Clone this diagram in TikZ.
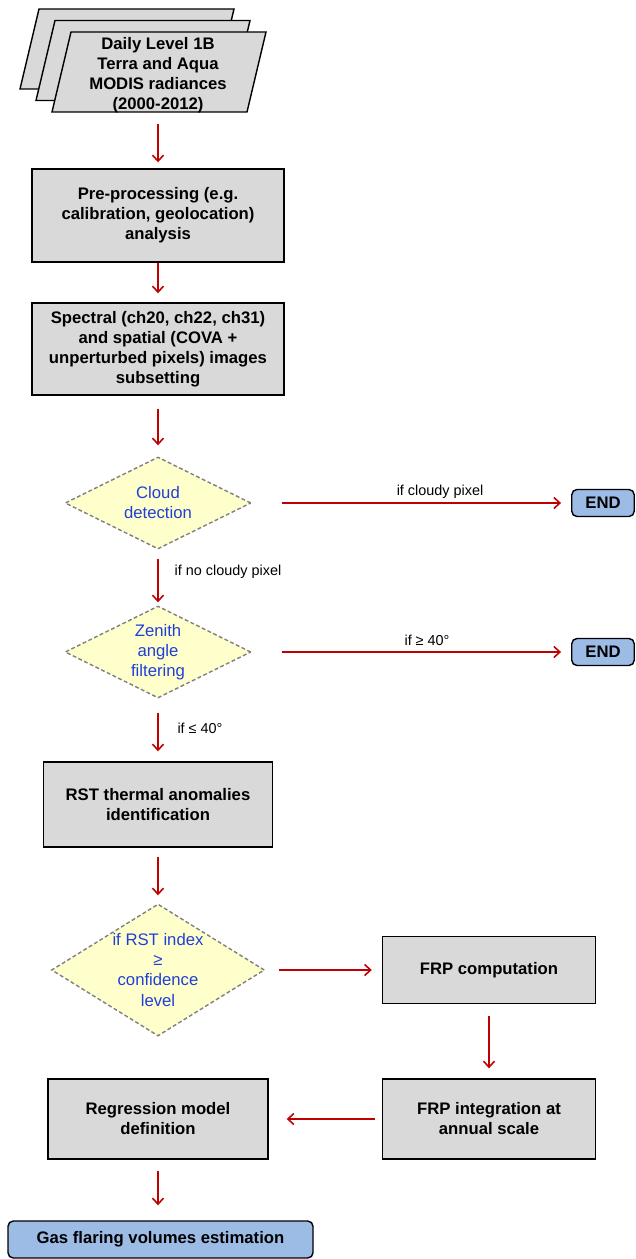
\documentclass[tikz,border=0pt]{standalone}
\usepackage{fontspec}
\setmainfont{Liberation Sans}
\usepackage{tikz}
\usetikzlibrary{arrows.meta, shapes.geometric, positioning}

\definecolor{grisCaja}{HTML}{D9D9D9}
\definecolor{amarilloDec}{HTML}{FFFFCC}
\definecolor{azulFin}{HTML}{9CBBE5}
\definecolor{azulTexto}{HTML}{1F3FD7}
\definecolor{rojoFlecha}{HTML}{C00000}

\begin{document}
\begin{tikzpicture}[
		font=\fontsize{9.5}{11.4}\selectfont,
		proc/.style={
			rectangle,
			draw,
			thick,
			fill=grisCaja,
			minimum width=50.4mm,
			minimum height=18.6mm,
			inner sep=1pt,
			align=center,
			font=\fontsize{9.5}{11.4}\selectfont\bfseries
		},
		dec/.style={
			diamond,
			draw=gray,
			line width=0.8pt,
			dash pattern=on 2.2pt off 1.4pt,
			fill=amarilloDec,
			aspect=2,
			inner sep=0pt,
			minimum width=37.2mm,
			minimum height=18.4mm,
			align=center,
			text=azulTexto
		},
		fin/.style={
			rectangle,
			rounded corners=3pt,
			draw,
			thick,
			fill=azulFin,
			minimum width=12.5mm,
			minimum height=5.4mm,
			align=center,
			font=\fontsize{9.5}{11.4}\selectfont\bfseries
		},
		hoja/.style={
			draw,
			thick,
			fill=grisCaja
		},
		etq/.style={
			inner sep=1pt,
			font=\fontsize{8.2}{9.8}\selectfont
		},
		fl/.style={
			draw=rojoFlecha,
			line width=0.9pt,
			-{Straight Barb[length=1.2mm, width=2.2mm]},
			shorten <=2mm,
			shorten >=2mm
		}
		]
		
		\useasboundingbox (0,0) rectangle (12.7,-25.18);
		
		% Input data
		\foreach \i in {2,1,0}
		\draw[hoja, shift={(-0.32*\i,0.23*\i)}]
		(1.04,-2.24) -- (4.94,-2.24) -- (5.32,-0.64) -- (1.42,-0.64) -- cycle;
		
		\node[minimum height=16mm, inner sep=0pt, align=center,
		font=\fontsize{9.5}{11.4}\selectfont\bfseries] (d0) at (3.16,-1.5)
		{Daily Level 1B\\Terra and Aqua\\MODIS radiances\\(2000-2012)};
		
		% Pre-processing
		\node[proc] (p1) at (3.16,-4.31)
		{Pre-processing (e.g.\\calibration, geolocation)\\analysis};
		
		\node[proc, minimum height=18.4mm] (p2) at (3.16,-6.98)
		{Spectral (ch20, ch22, ch31)\\and spatial (COVA +\\unperturbed pixels) images\\subsetting};
		
		\draw[fl, shorten <=1.8mm, shorten >=1.2mm] (d0) -- (p1);
		\draw[fl, shorten <=0mm, shorten >=1.8mm] (p1) -- (p2);
		
		% Tests
		\node[dec] (c1) at (3.16,-10.06)
		{Cloud\\detection};
		
		\node[fin] (e1) at (12.06,-10.06) {END};
		
		\node[dec] (c2) at (3.16,-13.04)
		{Zenith\\angle\\filtering};
		
		\node[fin] (e2) at (12.06,-13.04) {END};
		
		\draw[fl, shorten <=2.6mm, shorten >=2.2mm] (p2) -- (c1);
		\draw[fl, shorten <=6mm] (c1) -- (e1);
		\draw[fl, shorten <=1.8mm, shorten >=0.6mm] (c1) -- (c2);
		\draw[fl, shorten <=6mm] (c2) -- (e2);
		
		\node[etq] (l1) at (8.8,-9.84) {if cloudy pixel};
		\node[etq] (l2) at (4.56,-11.44) {if no cloudy pixel};
		\node[etq] (l3) at (8.54,-12.8) {if ≥ 40°};
		\node[etq] (l4) at (4.0,-14.56) {if ≤ 40°};
		
		% RST
		\node[proc, minimum width=45.8mm, minimum height=17mm] (r1) at (3.16,-16.09)
		{RST thermal anomalies\\identification};
		
		\draw[fl, shorten <=2.8mm] (c2) -- (r1);
		
		\node[dec, aspect=1.6, minimum width=42.6mm, minimum height=26.4mm] (c3) at (3.16,-19.4)
		{if RST index\\≥\\confidence\\level};
		
		\draw[fl, shorten <=1.8mm, shorten >=1.6mm] (r1) -- (c3);
		
		% FRP
		\node[proc, minimum width=42.6mm, minimum height=13.4mm] (f1) at (9.78,-19.4)
		{FRP computation};
		
		\node[proc, minimum width=42.6mm, minimum height=16mm] (f2) at (9.78,-22.38)
		{FRP integration at\\annual scale};
		
		\node[proc, minimum width=44mm, minimum height=16mm] (m1) at (3.16,-22.38)
		{Regression model\\definition};
		
		\node[fin, minimum width=61mm, minimum height=7.4mm] (g1) at (3.21,-24.79)
		{Gas flaring volumes estimation};
		
		\draw[fl, shorten <=2.8mm] (c3) -- (f1);
		\draw[fl, shorten <=2.4mm] (f1) -- (f2);
		\draw[fl, shorten <=1.4mm, shorten >=3.6mm] (f2) -- (m1);
		\draw[fl, shorten <=2.2mm, shorten >=3mm] (m1) -- (m1 |- g1.north);
		
	\end{tikzpicture}
\end{document}
